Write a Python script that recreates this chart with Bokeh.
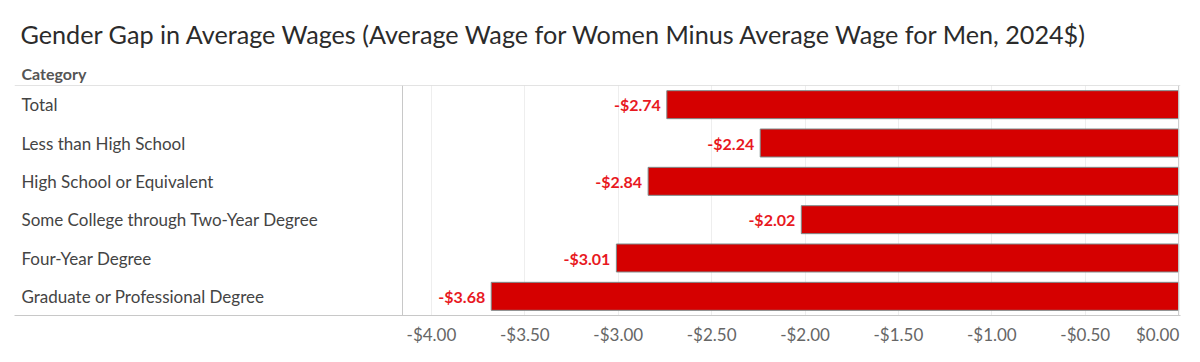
from bokeh.plotting import figure
from bokeh.models import (Range1d, FactorRange, LabelSet, Span, ColumnDataSource,
                          FixedTicker, CustomJSTickFormatter, Title)
from bokeh.core.properties import value
from bokeh.embed import file_html
from bokeh.resources import INLINE

title_text = "Gender Gap in Average Wages (Average Wage for Women Minus Average Wage for Men, 2024$)"
header_text = "Category"
categories = ["Total", "Less than High School", "High School or Equivalent",
              "Some College through Two-Year Degree", "Four-Year Degree",
              "Graduate or Professional Degree"]
gaps = [-2.74, -2.24, -2.84, -2.02, -3.01, -3.68]
tick_values = [-4.0, -3.5, -3.0, -2.5, -2.0, -1.5, -1.0, -0.5, 0.0]
value_min, value_max = -4.155, 0.01

W, H = 1192, 354
frame_left, frame_right = 14, 1180
frame_top, frame_bottom = 85, 315
value_left_px = 402
px_per_unit = (frame_right - value_left_px) / (value_max - value_min)
x_start = value_min - (value_left_px - frame_left) / px_per_unit

FONT = "Lato"

src = ColumnDataSource(dict(
    category=categories,
    gap=gaps,
    zero=[0.0] * len(gaps),
    label=["-$%.2f" % abs(g) for g in gaps],
))

p = figure(width=W, height=H, output_backend="svg", toolbar_location=None, title=None,
           x_range=Range1d(x_start, value_max),
           y_range=FactorRange(factors=list(reversed(categories))),
           min_border_left=frame_left, min_border_right=W - frame_right,
           min_border_top=frame_top, min_border_bottom=H - frame_bottom,
           y_axis_location=None, outline_line_color=None,
           background_fill_color="white", border_fill_color="white")

p.hbar(y="category", left="gap", right="zero", height=0.73, source=src,
       fill_color="#d50000", line_color="#7d8b8b", line_width=1)

# the last tick label ($0.00) sits right-aligned against the end of the axis,
# so its tick position is moved left by half the label's width
last_label_shift = 21 / px_per_unit
label_ticks = tick_values[:-1] + [tick_values[-1] - last_label_shift]

ax = p.xaxis[0]
ax.ticker = FixedTicker(ticks=label_ticks)
ax.formatter = CustomJSTickFormatter(args=dict(last=tick_values[-1], shift=last_label_shift), code="""
    const v = (tick > last - 2 * shift) ? last : tick;
    return (v < 0 ? '-' : '') + '$' + Math.abs(v).toFixed(2);
""")
ax.major_tick_line_color = None
ax.minor_tick_line_color = None
ax.axis_line_color = "#c8c8c8"
ax.major_label_text_font = FONT
ax.major_label_text_font_size = "17px"
ax.major_label_text_color = "#666666"
ax.major_label_standoff = 2

p.xgrid.ticker = FixedTicker(ticks=tick_values[:-1])
p.xgrid.grid_line_color = "#eeeeee"
p.ygrid.grid_line_color = None

p.add_layout(Span(location=len(categories), dimension="width", line_color="#c8c8c8", line_width=1))
p.add_layout(Span(location=value_min, dimension="height", line_color="#c8c8c8", line_width=1))
p.add_layout(Span(location=0.0, dimension="height", line_color="#c8c8c8", line_width=1))

p.add_layout(LabelSet(x=7, x_units="screen", y="category", text="category", source=src,
                      text_align="left", text_baseline="middle", text_font=value(FONT),
                      text_font_size=value("17px"), text_color="#444444"))
p.add_layout(LabelSet(x="gap", y="category", text="label", source=src, x_offset=-6,
                      text_align="right", text_baseline="middle", text_font=value(FONT),
                      text_font_size=value("16px"), text_font_style="bold",
                      text_color="#e8191f"))

p.add_layout(Title(text=header_text, align="left", offset=7, standoff=6,
                   text_font=FONT, text_font_size="16px", text_font_style="bold",
                   text_color="#555555"), "above")
p.add_layout(Title(text=title_text, align="left", offset=6, standoff=20,
                   text_font=FONT, text_font_size="25.2px", text_font_style="normal",
                   text_color="#2b2b2b"), "above")

open("out.html", "w").write(file_html(p, INLINE))
